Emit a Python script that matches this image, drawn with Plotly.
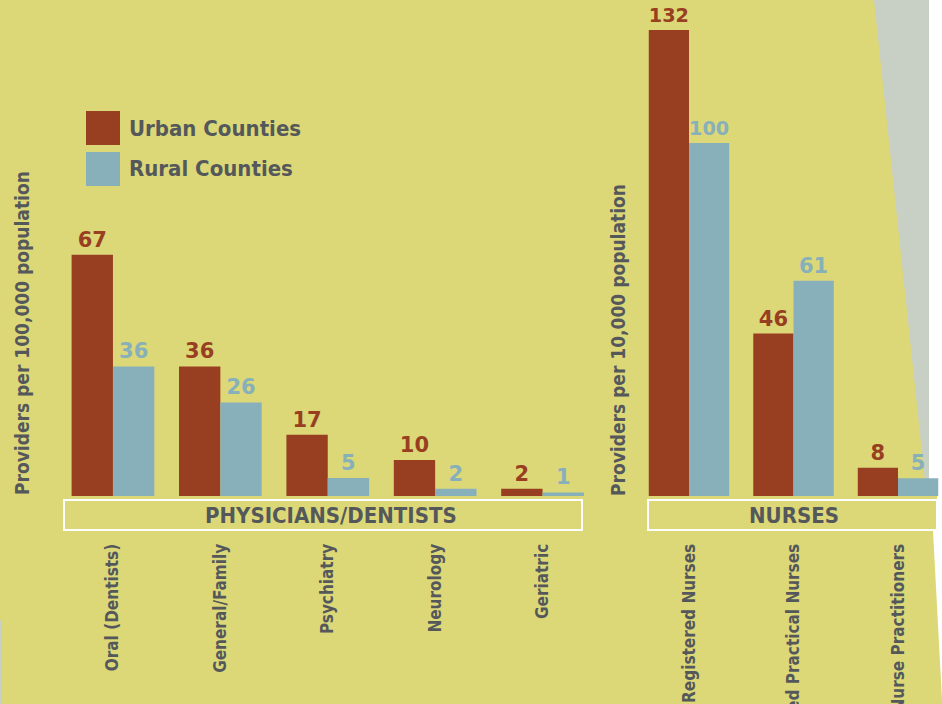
import plotly.graph_objects as go

# ---- data ----
phys_categories = ["Oral (Dentists)", "General/Family", "Psychiatry", "Neurology", "Geriatric"]
phys_urban = [67, 36, 17, 10, 2]
phys_rural = [36, 26, 5, 2, 1]

nurse_categories = ["Registered Nurses", "Licensed Practical Nurses", "Nurse Practitioners"]
nurse_urban = [132, 46, 8]
nurse_rural = [100, 61, 5]

series_names = ["Urban Counties", "Rural Counties"]

# ---- styles ----
W, H = 942, 704
BG = "#dcd878"
URBAN = "#983f22"
RURAL = "#87b0ba"
TXT = "#55585b"
GRAY = "#c8cfc5"
COND = "Liberation Sans Narrow, DejaVu Sans Condensed, Roboto Condensed, Arial Narrow, sans-serif"
VALF = "DejaVu Sans, Verdana, sans-serif"


def px(x):
    return x / W


def py(y):
    return 1 - y / H


fig = go.Figure()

for xs, urb, rur, xa, ya in [
    (phys_categories, phys_urban, phys_rural, "x", "y"),
    (nurse_categories, nurse_urban, nurse_rural, "x2", "y2"),
]:
    for vals, color, name in [(urb, URBAN, series_names[0]), (rur, RURAL, series_names[1])]:
        fig.add_trace(go.Bar(
            x=xs, y=vals, name=name, xaxis=xa, yaxis=ya,
            marker=dict(color=color, line=dict(width=0)),
            text=[str(v) for v in vals], textposition="outside",
            textfont=dict(family=VALF, size=21, color=color, weight="bold"),
            cliponaxis=False, showlegend=False,
        ))

base_y = 496
ydom = [py(base_y), 1]

xcommon = dict(
    type="category", showgrid=False, zeroline=False, showline=False,
    ticks="outside", ticklen=40, tickcolor="rgba(0,0,0,0)", tickangle=-90,
    tickfont=dict(family=COND, size=17, color=TXT, weight="bold"),
    automargin=False, fixedrange=True,
)
ycommon = dict(showgrid=False, zeroline=False, showline=False, showticklabels=False,
               ticks="", domain=ydom, fixedrange=True)

fig.update_layout(
    width=W, height=H, autosize=False,
    margin=dict(l=0, r=0, t=0, b=0),
    paper_bgcolor=BG, plot_bgcolor="rgba(0,0,0,0)",
    barmode="group", bargap=0.23, bargroupgap=0,
    xaxis=dict(domain=[px(59.25), px(596.25)], range=[-0.5, 4.5], **xcommon),
    xaxis2=dict(domain=[px(636.75), 1], range=[-0.5, 2.421], anchor="y2", **xcommon),
    yaxis=dict(range=[0, 137.8], **ycommon),
    yaxis2=dict(range=[0, 140.5], anchor="x2", **ycommon),
)

shapes = []
# background decorations
shapes.append(dict(type="path", xref="paper", yref="paper", layer="below",
                   path=f"M {px(874)},{py(0)} L {px(929)},{py(0)} L {px(929)},{py(495)} L {px(926.5)},{py(495)} Z",
                   fillcolor=GRAY, line=dict(width=0)))
shapes.append(dict(type="path", xref="paper", yref="paper", layer="below",
                   path=(f"M {px(929)},{py(0)} L 1,{py(0)} L 1,{py(700)} L {px(933)},{py(531)} "
                         f"L {px(937)},{py(531)} L {px(937)},{py(490)} L {px(929)},{py(490)} Z"),
                   fillcolor="white", line=dict(width=0)))
shapes.append(dict(type="path", xref="paper", yref="paper", layer="below",
                   path=f"M 0,{py(620)} L {px(2)},{py(620)} L {px(2)},0 L 0,0 Z",
                   fillcolor=GRAY, line=dict(width=0)))
# group boxes
shapes.append(dict(type="rect", xref="paper", yref="paper",
                   x0=px(64), x1=px(582), y0=py(530), y1=py(500),
                   line=dict(color="white", width=2), fillcolor="rgba(0,0,0,0)"))
shapes.append(dict(type="rect", xref="paper", yref="paper",
                   x0=px(648), x1=px(937), y0=py(530), y1=py(500),
                   line=dict(color="white", width=2), fillcolor="rgba(0,0,0,0)"))
# legend swatches
shapes.append(dict(type="rect", xref="paper", yref="paper",
                   x0=px(86), x1=px(120), y0=py(145), y1=py(111),
                   fillcolor=URBAN, line=dict(width=0)))
shapes.append(dict(type="rect", xref="paper", yref="paper",
                   x0=px(86), x1=px(120), y0=py(186), y1=py(152),
                   fillcolor=RURAL, line=dict(width=0)))
fig.update_layout(shapes=shapes)

annots = []
tf = dict(family=COND, color=TXT, weight="bold")
annots.append(dict(text="PHYSICIANS/DENTISTS", x=px(331), y=py(515), xref="paper", yref="paper",
                   showarrow=False, xanchor="center", yanchor="middle", font=dict(size=22, **tf)))
annots.append(dict(text="NURSES", x=px(794), y=py(515), xref="paper", yref="paper",
                   showarrow=False, xanchor="center", yanchor="middle", font=dict(size=22, **tf)))
annots.append(dict(text=series_names[0], x=px(127), y=py(128), xref="paper", yref="paper",
                   showarrow=False, xanchor="left", yanchor="middle", font=dict(size=22, **tf)))
annots.append(dict(text=series_names[1], x=px(127), y=py(169), xref="paper", yref="paper",
                   showarrow=False, xanchor="left", yanchor="middle", font=dict(size=22, **tf)))
annots.append(dict(text="Providers per 100,000 population", x=px(22), y=py(333), xref="paper", yref="paper",
                   showarrow=False, textangle=-90, xanchor="center", yanchor="middle",
                   font=dict(size=19, **tf)))
annots.append(dict(text="Providers per 10,000 population", x=px(618), y=py(340), xref="paper", yref="paper",
                   showarrow=False, textangle=-90, xanchor="center", yanchor="middle",
                   font=dict(size=19, **tf)))
fig.update_layout(annotations=annots)

fig.write_html("out.html", config={"displayModeBar": False},
               post_script="document.body.style.margin='0';document.body.style.overflow='hidden';")
